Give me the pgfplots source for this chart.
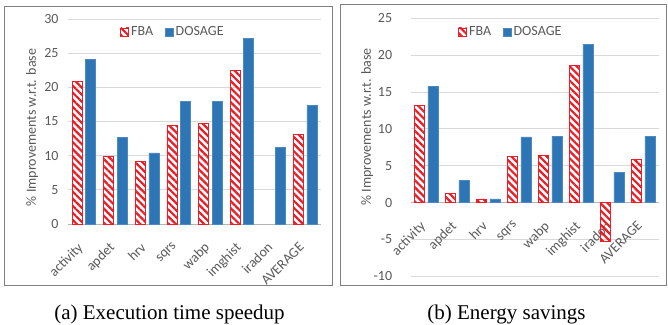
\documentclass[border=0pt]{standalone}
\usepackage{pgfplots}
\pgfplotsset{compat=1.18}
\usepackage{fontspec}
\setmainfont{Carlito}
\newfontfamily\capfont{Liberation Serif}
\usetikzlibrary{patterns.meta}
\definecolor{dosage}{RGB}{46,117,182}
\definecolor{fbared}{RGB}{234,30,38}
\definecolor{txtgray}{RGB}{89,89,89}
\definecolor{gridgray}{RGB}{217,217,217}
\definecolor{framegray}{RGB}{128,128,128}
\pgfplotsset{
  mybars/.style={
    ybar=3.5pt, bar width=10pt,
    scale only axis,
    xmin=-0.5, xmax=7.5,
    xtick={0,...,7},
    xticklabels={activity,apdet,hrv,sqrs,wabp,imghist,iradon,AVERAGE},
    axis x line*=middle,
    axis y line*=left,
    x axis line style={draw=gridgray!60!gray, line width=0.8pt, -},
    y axis line style={draw=none},
    major tick length=0pt,
    ymajorgrids, grid style={gridgray, line width=0.8pt},
    tick label style={font=\fontsize{14}{16}\selectfont, text=txtgray},
    /pgf/number format/assume math mode=true,
    x tick label style={xshift=-7pt, yshift=-16pt, rotate=45, anchor=north east, inner sep=1pt},
    ylabel={\% Improvements w.r.t. base},
    ylabel style={font=\fontsize{14}{16}\selectfont, text=txtgray, anchor=center},
    legend columns=2,
    legend style={draw=none, fill=none, font=\fontsize{14}{16}\selectfont, text=txtgray, anchor=center,
      /tikz/every even column/.append style={column sep=10pt}},
    legend image code/.code={\draw[##1] (0pt,-4pt) rectangle (8pt,4pt);},
  },
  fba/.style={draw=fbared, line width=0.8pt, pattern={Lines[angle=-45,distance=5pt,line width=2.2pt]}, pattern color=fbared},
  dos/.style={draw=dosage!85!white, fill=dosage, line width=0.5pt},
}
\begin{document}
\begin{tikzpicture}[x=1pt,y=1pt]
\useasboundingbox (0,0) rectangle (668,324);
\draw[framegray, line width=0.8pt] (4,39) rectangle (332,318);
\draw[framegray, line width=0.8pt] (340,39) rectangle (666,320);
\begin{axis}[mybars, at={(68pt,100pt)}, anchor=south west,
  width=253pt, height=205pt, ymin=0, ymax=30, ytick={0,5,...,30},
  y tick label style={xshift=-6pt},
  ylabel style={at={(axis description cs:-0.142,0.471)}},
  legend style={at={(axis description cs:0.415,0.937)}}]
\addplot[fba] coordinates {(0,20.8) (1,9.9) (2,9.2) (3,14.4) (4,14.7) (5,22.5) (7,13.1)};
\addplot[dos] coordinates {(0,24.1) (1,12.7) (2,10.4) (3,18.0) (4,18.0) (5,27.2) (6,11.2) (7,17.4)};
\legend{FBA,DOSAGE}
\end{axis}
\begin{axis}[mybars, at={(410.7pt,47.7pt)}, anchor=south west,
  width=248pt, height=258pt, ymin=-10, ymax=25, ytick={-10,-5,...,25},
  y tick label style={xshift=-15pt},
  ylabel style={at={(axis description cs:-0.176,0.579)}},
  legend style={at={(axis description cs:0.404,0.947)}}]
\addplot[fba] coordinates {(0,13.2) (1,1.2) (2,0.5) (3,6.2) (4,6.4) (5,18.6) (6,-5.2) (7,5.8)};
\addplot[dos] coordinates {(0,15.8) (1,3.0) (2,0.5) (3,8.9) (4,9.0) (5,21.5) (6,4.1) (7,9.0)};
\legend{FBA,DOSAGE}
\end{axis}
\node[font=\capfont\fontsize{21}{24}\selectfont, anchor=base] at (169.5,4.7) {(a) Execution time speedup};
\node[font=\capfont\fontsize{21}{24}\selectfont, anchor=base] at (506.5,4.7) {(b) Energy savings};
\end{tikzpicture}
\end{document}
